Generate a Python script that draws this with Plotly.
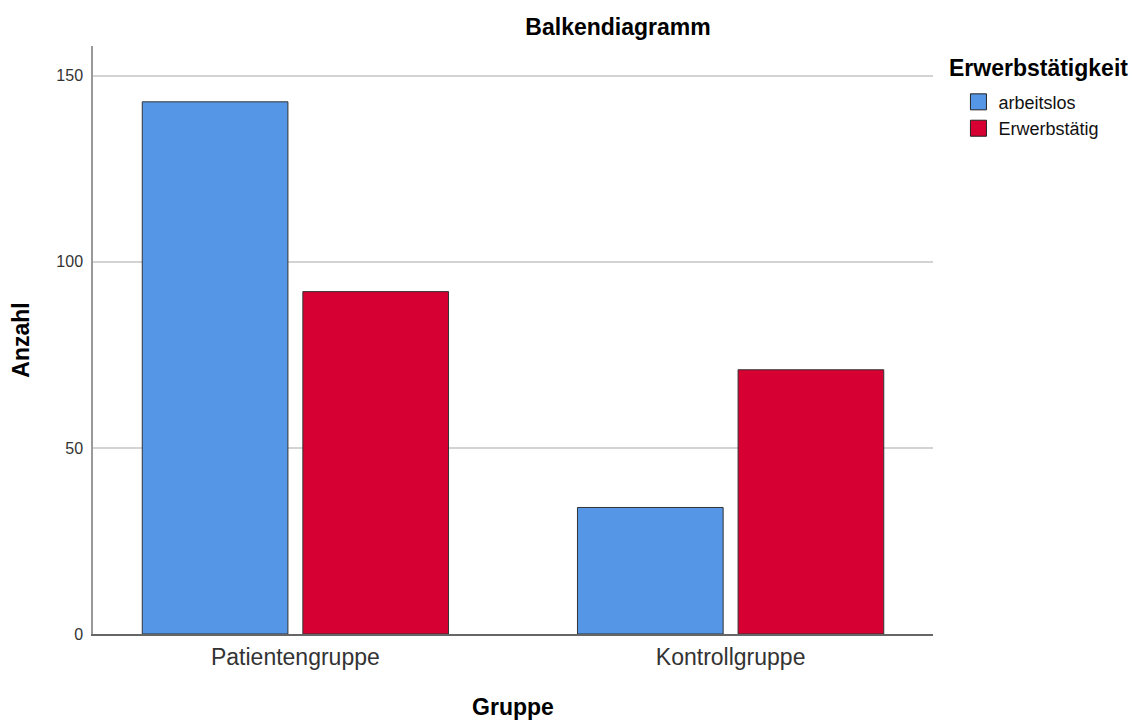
import plotly.graph_objects as go

categories = ["Patientengruppe", "Kontrollgruppe"]
series_names = ["arbeitslos", "Erwerbstätig"]
arbeitslos = [143, 34]
erwerbstaetig = [92, 71]
y_ticks = [0, 50, 100, 150]

colors = ["#5596E6", "#D60032"]
FONT = "Liberation Sans, Arial, sans-serif"

fig = go.Figure()
for name, vals, col in zip(series_names, [arbeitslos, erwerbstaetig], colors):
    fig.add_trace(go.Bar(
        x=categories, y=vals, name=name, showlegend=False,
        marker=dict(color=col, line=dict(color="#333333", width=1)),
    ))
# legend entries with larger square swatches
for name, col in zip(series_names, colors):
    fig.add_trace(go.Scatter(
        x=[None], y=[None], name=name, mode="markers",
        marker=dict(symbol="square", size=16, color=col,
                    line=dict(color="#222222", width=1)),
    ))

fig.update_layout(
    width=1139, height=720,
    margin=dict(l=83, r=214, t=38, b=94),
    paper_bgcolor="white", plot_bgcolor="white",
    barmode="group", bargap=0.262, bargroupgap=0.093,
    font=dict(family=FONT, color="#333333"),
    title=dict(text="<b>Balkendiagramm</b>", xref="container", x=0.5356, xanchor="center",
               yref="container", y=0.9736, yanchor="middle",
               font=dict(size=23, color="#000000")),
    legend=dict(
        x=1.0303, xanchor="left", y=0.936, yanchor="top",
        font=dict(size=18, color="#111111"),
        itemwidth=30, tracegroupgap=0, itemsizing="trace",
    ),
    showlegend=True,
    annotations=[dict(
        text="<b>Erwerbstätigkeit</b>", xref="paper", yref="paper",
        x=1.0166, xanchor="left", y=0.9626, yanchor="middle",
        showarrow=False, font=dict(size=23, color="#000000"),
    )],
)
fig.update_xaxes(
    range=[-0.465, 1.465],
    showline=True, linecolor="#666666", linewidth=1.5,
    ticks="", tickfont=dict(size=23, color="#333333"),
    ticklabelstandoff=2,
    title=dict(text="<b>Gruppe</b>", font=dict(size=23, color="#000000"), standoff=30),
    showgrid=False,
)
fig.update_yaxes(
    range=[0, 158], tickvals=y_ticks,
    showline=True, linecolor="#999999", linewidth=1.5,
    ticks="", tickfont=dict(size=16, color="#333333"),
    ticklabelstandoff=5,
    showgrid=True, gridcolor="#d3d3d3", gridwidth=1.5,
    zeroline=False,
    title=dict(text="<b>Anzahl</b>", font=dict(size=23, color="#000000"), standoff=20),
)

fig.write_html("out.html")
